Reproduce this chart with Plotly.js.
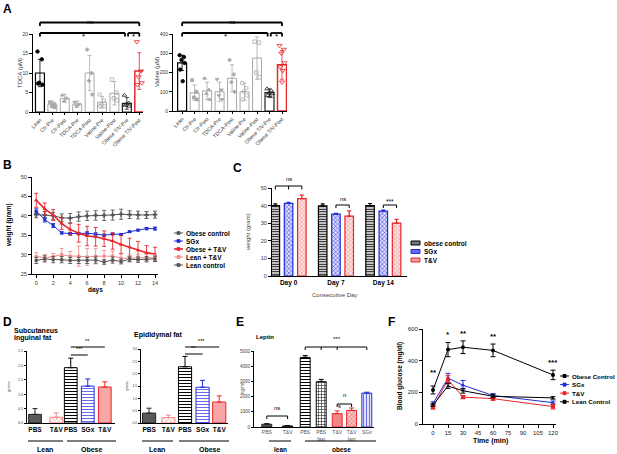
<!DOCTYPE html>
<html>
<head>
<meta charset="utf-8">
<script src="https://cdn.plot.ly/plotly-3.0.1.min.js"></script>
<style>html,body{margin:0;padding:0;background:#fff}#chart{width:617px;height:454px}</style>
</head>
<body>
<div id="chart"></div>
<script>
// ---------- data ----------
// A: plasma TDCA / valine
const groupsA = ['Lean', 'Ctr-Pre', 'Ctr-Post', 'TDCA-Pre', 'TDCA-Post', 'Valine-Pre', 'Valine-Post', 'Obese T/V-Pre', 'Obese T/V-Post'];
const tdcaMean = [10, 2, 3.5, 2, 10, 2.5, 4.8, 2.2, 10.5];
const tdcaSd = [3.5, 0.8, 1, 0.8, 4.5, 1.5, 3, 1.5, 4.7];
const tdcaPts = [[15.5, 13.5, 7.5, 7.0, 7.3], [2.5, 2, 1.5, 1.2], [4.3, 3.5, 2.8], [2.5, 2, 1.5],
  [16, 10, 8, 4.5], [4.5, 3, 2, 1.5, 1.5], [8.3, 5, 3.5, 3], [4.3, 2.3, 2, 1.5, 1.7], [18, 10.5, 9, 7.5, 7]];
const valMean = [250, 95, 105, 100, 170, 100, 275, 95, 240];
const valSd = [40, 40, 45, 50, 70, 45, 110, 20, 75];
const valPts = [[290, 280, 265, 250, 215, 155], [160, 100, 70, 60], [170, 110, 90, 60], [165, 110, 80, 60],
  [265, 190, 150, 100], [145, 120, 100, 80, 60], [360, 355, 200, 175], [115, 105, 95, 90, 80, 75],
  [340, 320, 300, 250, 230, 210, 150]];

// B: body weight over 14 days
const days = [0, 1, 2, 3, 4, 5, 6, 7, 8, 9, 10, 11, 12, 13, 14];
const obeseCtl = [40.3, 40.2, 40, 39.5, 39.4, 39.8, 40, 40.1, 40.1, 40.2, 40.4, 40.3, 40.2, 40.2, 40.3];
const obeseCtlSd = [0.8, 0.9, 0.9, 1, 1.2, 1.2, 1.2, 1.2, 1.3, 1.3, 1.3, 1, 1, 0.9, 0.9];
const sgx = [41.2, 39, 37.5, 35.6, 35.4, 35.4, 35.5, 35.3, 35, 35.3, 35.2, 35.9, 36.3, 36.7, 36.7];
const sgxSd = [0.6, 0.6, 0.5, 0.3, 0.3, 0.3, 0.4, 0.3, 0.3, 0.2, 0.2, 0.2, 0.2, 0.3, 0.4];
const obeseTV = [44, 41.8, 40.2, 38, 36.5, 35.5, 34.8, 34.6, 34.1, 33.5, 32.6, 31.9, 31.1, 30.5, 30.1];
const obeseTVSd = [1.8, 1.5, 1.4, 1.5, 1.5, 2.3, 2.5, 2.4, 2, 2.1, 2.3, 2.3, 2.3, 1.8, 1.8];
const leanTV = [29.5, 29.2, 29.5, 30, 29.6, 29.6, 29.4, 29.6, 29.6, 29.6, 29.1, 29, 29.2, 29.2, 29.2];
const leanTVSd = [1, 0.8, 0.8, 1.6, 1.2, 2.6, 2.2, 2, 1.5, 1.3, 1, 0.9, 0.8, 0.8, 0.8];
const leanCtl = [28.5, 28.9, 28.7, 28.7, 28.5, 28.5, 28.5, 28.6, 28.1, 28.6, 28.2, 28.8, 28.7, 28.8, 28.9];
const leanCtlSd = [0.8, 0.8, 0.8, 0.8, 0.8, 0.8, 0.8, 0.8, 0.6, 0.8, 0.6, 0.6, 0.7, 0.7, 0.7];

// C: weight at day 0 / 7 / 14
const cDays = ['Day 0', 'Day 7', 'Day 14'];
const cObese = [40, 39.8, 40];
const cObeseSd = [1, 1.2, 1.2];
const cSgx = [41.3, 35.2, 36.9];
const cSgxSd = [0.6, 0.4, 0.6];
const cTV = [44, 34, 30];
const cTVSd = [2, 3, 2.2];

// D: fat pads
const dLabels = ['PBS', 'T&V', 'PBS', 'SGx', 'T&V'];
const subqMean = [0.3, 0.2, 1.92, 1.28, 1.25];
const subqSem = [0.2, 0.15, 0.33, 0.25, 0.18];
const epiMean = [0.4, 0.22, 2.28, 1.45, 0.85];
const epiSem = [0.2, 0.1, 0.42, 0.28, 0.25];

// E: leptin
const eLabels = ['PBS', 'T&V', 'PBS', 'PBS<br>fast', 'T&V', 'T&V<br>fast', 'SGx'];
const leptin = [180, 70, 4580, 2980, 880, 1090, 2230];
const leptinSem = [50, 30, 120, 150, 180, 160, 60];

// F: glucose tolerance
const times = [0, 15, 30, 60, 120];
const gObese = [215, 470, 485, 465, 310];
const gObeseSd = [25, 45, 40, 40, 30];
const gSgx = [130, 290, 245, 180, 135];
const gSgxSd = [10, 30, 30, 12, 10];
const gTV = [105, 280, 170, 160, 110];
const gTVSd = [10, 25, 10, 10, 15];
const gLean = [120, 240, 210, 175, 165];
const gLeanSd = [8, 15, 15, 10, 8];
const fStars = ['**', '*', '**', '**', '***'];

// ---------- helpers ----------
const W = 617, H = 454;
const FONT = 'Liberation Sans, Arial, sans-serif';
const RED = '#e8262b', BLUE = '#1f2ed6', GREY = '#a8a8a8', DARK = '#555';
const fx = p => p / W;
const fy = p => 1 - p / H;
const xdom = (a, b) => [a / W, b / W];
const ydom = (top, bot) => [1 - bot / H, 1 - top / H];

const traces = [], shapes = [], annotations = [];

function ax(dom, range, anchor, extra) {
  return Object.assign({
    domain: dom, range: range, anchor: anchor,
    showgrid: false, zeroline: false, showline: true,
    linecolor: '#000', linewidth: 1,
    ticks: 'outside', ticklen: 3, tickwidth: 1, tickcolor: '#000',
    tickfont: {family: FONT, size: 5, color: '#333'}, fixedrange: true
  }, extra || {});
}
function txt(text, x, y, size, o) {
  annotations.push(Object.assign({
    text: text, x: fx(x), y: fy(y), xref: 'paper', yref: 'paper', showarrow: false,
    xanchor: 'center', yanchor: 'middle', borderpad: 0,
    font: {family: FONT, size: size, color: '#000'}
  }, o || {}));
}
function axTxt(text, xr, xv, y, size) {
  annotations.push({text: text, x: xv, y: fy(y), xref: xr, yref: 'paper', showarrow: false,
    borderpad: 0, font: {family: FONT, size: size, color: '#000'}});
}
function line(xr, x0, x1, y0, y1, c, w) {
  shapes.push({type: 'line', xref: xr, yref: 'paper', x0: x0, x1: x1, y0: y0, y1: y1,
    line: {color: c || '#000', width: w || 1}});
}
function hline(x0, x1, y, c, w) { line('paper', fx(x0), fx(x1), fy(y), fy(y), c, w); }
function bracket(xr, xs, y, drop, w) {
  line(xr, xs[0], xs[xs.length - 1], fy(y), fy(y), '#000', w);
  if (drop) xs.forEach(x => line(xr, x, x, fy(y), fy(y + drop), '#000', w));
}
function swatch(x0, y0, x1, y1, fill, lc) {
  shapes.push({type: 'rect', xref: 'paper', yref: 'paper', x0: fx(x0), x1: fx(x1), y0: fy(y1), y1: fy(y0),
    fillcolor: fill, line: {color: lc, width: 1}});
}
function bar(xa, ya, x, y, err, st, width, upOnly) {
  const m = {color: st.fill || 'rgba(255,255,255,0)', line: {color: st.c, width: st.w || 1}};
  if (st.pat) m.pattern = st.pat;
  traces.push({type: 'bar', xaxis: xa, yaxis: ya, x: [x], y: [y], width: width, marker: m,
    error_y: upOnly ? {type: 'data', symmetric: false, array: [err], arrayminus: [0], color: st.c, thickness: 1, width: 2.5}
                    : {type: 'data', array: [err], color: st.c, thickness: 0.8, width: 2},
    showlegend: false, hoverinfo: 'skip'});
}

// ---------- panel A ----------
const jit = [-0.2, 0.15, -0.05, 0.2, -0.15, 0.05, 0.0];
const barStyleA = [
  {c: '#000', w: 1.2}, {c: GREY}, {c: GREY}, {c: GREY}, {c: GREY}, {c: GREY}, {c: GREY},
  {c: '#222', w: 1.2}, {c: RED, w: 1.5}
];
const ptStyleA = [
  {symbol: 'circle', color: '#000', size: 3.5}, {symbol: 'square', color: GREY, size: 3},
  {symbol: 'triangle-up', color: GREY, size: 3.5}, {symbol: 'triangle-down', color: GREY, size: 3.5},
  {symbol: 'diamond', color: GREY, size: 3}, {symbol: 'circle-open', color: GREY, size: 3.5},
  {symbol: 'square-open', color: GREY, size: 3.5}, {symbol: 'triangle-up-open', color: '#222', size: 4},
  {symbol: 'triangle-down-open', color: RED, size: 4.5}
];
[[tdcaMean, tdcaSd, tdcaPts, 'x', 'y'], [valMean, valSd, valPts, 'x2', 'y2']].forEach(([mean, sd, pts, xa, ya]) => {
  groupsA.forEach((g, i) => {
    bar(xa, ya, i, mean[i], sd[i], barStyleA[i], 0.72, false);
    traces.push({type: 'scatter', mode: 'markers', xaxis: xa, yaxis: ya,
      x: pts[i].map((_, k) => i + jit[k]), y: pts[i], cliponaxis: false,
      marker: {symbol: ptStyleA[i].symbol, size: ptStyleA[i].size, color: ptStyleA[i].color,
        line: {color: ptStyleA[i].color, width: 0.8}},
      showlegend: false, hoverinfo: 'skip'});
  });
});
[['x', 0], ['x2', 0]].forEach(([xr]) => {
  bracket(xr, [0, 8], 22.5, 3.5, 1.8);
  bracket(xr, [0, 6.85], 33, 3.5, 1.8);
  bracket(xr, [7.1, 8], 33, 3.5, 1.8);
  axTxt('ns', xr, 4, 17.5, 6);
  axTxt('*', xr, 3.5, 31, 8);
  axTxt('*', xr, 7.55, 31, 8);
});
txt('TDCA (μM)', 20, 73, 6, {textangle: -90, font: {family: FONT, size: 6, color: '#333'}});
txt('Valine (μM)', 157, 72, 6, {textangle: -90, font: {family: FONT, size: 6, color: '#333'}});

// ---------- panel B ----------
const bSeries = [
  [obeseCtl, obeseCtlSd, 'Obese control', DARK, 'cross', 4, 1],
  [sgx, sgxSd, 'SGx', BLUE, 'square', 3, 1],
  [obeseTV, obeseTVSd, 'Obese + T&V', RED, 'triangle-up', 4, 1.6],
  [leanTV, leanTVSd, 'Lean + T&V', '#f08c8c', 'square', 3, 1],
  [leanCtl, leanCtlSd, 'Lean control', DARK, 'square', 3, 1]
];
bSeries.forEach(([y, sd, name, c, sym, sz, lw], k) => {
  traces.push({type: 'scatter', mode: 'lines+markers', xaxis: 'x3', yaxis: 'y3', x: days, y: y,
    line: {color: c, width: lw}, marker: {symbol: sym, size: sz, color: c},
    error_y: {type: 'data', array: sd, color: c, thickness: 0.9, width: 2},
    showlegend: false, hoverinfo: 'skip'});
  const yy = 233 + k * 8;
  hline(174, 183, yy, c, lw);
  swatch(177, yy - 1.3, 180, yy + 1.3, c, c);
  txt('<b>' + name + '</b>', 185, yy, 6.5, {xanchor: 'left'});
});
txt('<b>weight (gram)</b>', 9, 225, 6.5, {textangle: -90});
txt('<b>days</b>', 95, 290, 6.5);

// ---------- panel C ----------
const cSeries = [
  [cObese, cObeseSd, '#000', -0.37, {shape: '-', fgcolor: '#000', bgcolor: '#fff', size: 2.5, solidity: 0.45}],
  [cSgx, cSgxSd, BLUE, -0.09, {shape: 'x', fgcolor: BLUE, bgcolor: '#dcdcfa', size: 3, solidity: 0.3}],
  [cTV, cTVSd, RED, 0.19, {shape: 'x', fgcolor: '#f08080', bgcolor: '#fde3e3', size: 3, solidity: 0.3}]
];
cSeries.forEach(([y, sd, c, off, pat]) => {
  traces.push({type: 'bar', xaxis: 'x4', yaxis: 'y4', x: [0, 1, 2], y: y, width: 0.18, offset: off,
    marker: {color: '#fff', line: {color: c, width: 1.2}, pattern: pat},
    error_y: {type: 'data', symmetric: false, array: sd, arrayminus: [0, 0, 0], color: c, thickness: 1.2, width: 2},
    showlegend: false, hoverinfo: 'skip'});
});
bracket('x4', [-0.28, 0, 0.28], 186, 3.5, 1);
axTxt('ns', 'x4', 0, 179, 6);
bracket('x4', [1, 1.28], 205, 3, 1);
axTxt('ns', 'x4', 1.14, 199, 6);
bracket('x4', [2, 2.28], 205, 3, 1);
axTxt('***', 'x4', 2.14, 201, 6.5);
[['obese control', '#777', '#000'], ['SGx', '#6a6af0', BLUE], ['T&V', '#f4a0a0', RED]].forEach(([n, f, c], k) => {
  const yy = 243 + k * 8.5;
  swatch(411, yy - 2, 420, yy + 2, f, c);
  txt('<b>' + n + '</b>', 423, yy, 6.5, {xanchor: 'left'});
});
txt('weight (gram)', 248, 232, 6, {textangle: -90, font: {family: FONT, size: 6, color: '#444'}});
txt('Consecutive Day', 334, 295, 6, {font: {family: FONT, size: 6, color: '#444'}});

// ---------- panel D ----------
const dPos1 = [0, 1.25, 2.1, 3.1, 4.1];
const dPos2 = [0, 1.1, 2.05, 3.05, 4.0];
const dStyle = [
  {c: '#222', fill: '#5a5a5a'},
  {c: '#f08a8a', fill: '#fff', pat: {shape: 'x', fgcolor: '#f08a8a', bgcolor: '#fff', size: 3, solidity: 0.3}},
  {c: '#000', fill: '#fff', pat: {shape: '-', fgcolor: '#000', bgcolor: '#fff', size: 3, solidity: 0.35}},
  {c: BLUE, fill: '#fff', pat: {shape: '-', fgcolor: '#6a6af0', bgcolor: '#fff', size: 3, solidity: 0.35}},
  {c: RED, fill: '#f7a5a5'}
];
dLabels.forEach((l, i) => {
  bar('x5', 'y5', dPos1[i], subqMean[i], subqSem[i], dStyle[i], 0.75, true);
  bar('x6', 'y6', dPos2[i], epiMean[i], epiSem[i], dStyle[i], 0.75, true);
});
bracket('x5', [dPos1[2], dPos1[4]], 347, 0, 1);
axTxt('**', 'x5', 3.1, 344.5, 5.5);
bracket('x5', [dPos1[2], dPos1[3]], 355, 0, 1);
axTxt('***', 'x5', 2.6, 352.5, 5.5);
bracket('x6', [dPos2[2], dPos2[4]], 347, 0, 1);
axTxt('***', 'x6', 3.0, 344.5, 5.5);
bracket('x6', [dPos2[2], dPos2[3]], 354, 0, 1);
axTxt('**', 'x6', 2.55, 351.5, 5.5);
txt('<b>Subcutaneus</b>', 13, 330, 7, {xanchor: 'left'});
txt('<b>inguinal fat</b>', 13, 338, 7, {xanchor: 'left'});
txt('<b>Epididymal fat</b>', 133, 335, 7, {xanchor: 'left'});
txt('grams', 8, 387, 4, {textangle: -90, font: {family: FONT, size: 4, color: '#555'}});
txt('grams', 127, 386, 3.5, {textangle: -90, font: {family: FONT, size: 3.5, color: '#555'}});
hline(28, 63, 441); hline(67, 116, 441);
hline(142, 173, 441); hline(179, 229, 441);
txt('<b>Lean</b>', 45, 449, 7); txt('<b>Obese</b>', 92, 449, 7);
txt('<b>Lean</b>', 157, 449, 7); txt('<b>Obese</b>', 210, 449, 7);

// ---------- panel E ----------
const ePos = [0, 1.3, 2.4, 3.4, 4.4, 5.3, 6.25];
const eStyle = [
  {c: '#222', fill: '#555'},
  {c: '#111', fill: '#333'},
  {c: '#000', fill: '#fff', pat: {shape: '-', fgcolor: '#000', bgcolor: '#fff', size: 3, solidity: 0.35}},
  {c: '#000', fill: '#fff', pat: {shape: '+', fgcolor: '#222', bgcolor: '#fff', size: 3, solidity: 0.35}},
  {c: RED, fill: '#f28585'},
  {c: RED, fill: '#f4b0b0', pat: {shape: 'x', fgcolor: '#e05050', bgcolor: '#f8c8c8', size: 3, solidity: 0.3}},
  {c: BLUE, fill: '#fff', pat: {shape: '|', fgcolor: '#7070f0', bgcolor: '#e0e0fb', size: 3, solidity: 0.35}}
];
eLabels.forEach((l, i) => bar('x7', 'y7', ePos[i], leptin[i], leptinSem[i], eStyle[i], 0.62, true));
bracket('x7', [ePos[0], ePos[1]], 416, 3, 1);
axTxt('ns', 'x7', 0.65, 411.5, 6);
bracket('x7', [ePos[2], ePos[3], ePos[4], ePos[6]], 347, 3, 1);
axTxt('***', 'x7', 4.4, 343, 6);
bracket('x7', [ePos[4], ePos[5]], 404, 3, 1);
axTxt('n', 'x7', 4.85, 399, 6);
axTxt('s', 'x7', 4.55, 410, 6);
txt('<b>Leptin</b>', 265, 337, 6);
txt('ng/ml', 242, 389, 4.5, {textangle: -90, font: {family: FONT, size: 4.5, color: '#555'}});
hline(269, 291, 441); hline(305, 376, 441);
txt('<b>lean</b>', 280, 449, 6.5); txt('<b>obese</b>', 341, 449, 6.5);

// ---------- panel F ----------
const fSeries = [
  [gObese, gObeseSd, 'Obese Control', '#000', 'circle', 4],
  [gSgx, gSgxSd, 'SGx', BLUE, 'triangle-up', 4],
  [gTV, gTVSd, 'T&V', RED, 'square', 4],
  [gLean, gLeanSd, 'Lean Control', '#000', 'triangle-up', 3]
];
fSeries.forEach(([y, sd, name, c, sym, sz], k) => {
  traces.push({type: 'scatter', mode: 'lines+markers', xaxis: 'x8', yaxis: 'y8', x: times, y: y,
    line: {color: c, width: 1}, marker: {symbol: sym, size: sz, color: c},
    error_y: {type: 'data', array: sd, color: c, thickness: 1, width: 2.5},
    showlegend: false, hoverinfo: 'skip'});
  const yy = 376 + k * 8.6;
  hline(560, 569, yy, c, 1);
  swatch(563, yy - 1.5, 566, yy + 1.5, c, c);
  txt('<b>' + name + '</b>', 571, yy, 6.2, {xanchor: 'left'});
});
const starY = [378, 340, 339, 342, 368];
times.forEach((t, i) => axTxt('<b>' + fStars[i] + '</b>', 'x8', t, starY[i], 8));
txt('<b>Blood glucose (mg/dl)</b>', 400, 376, 6.5, {textangle: -90});
txt('<b>Time (min)</b>', 490, 441, 7);

// ---------- panel letters ----------
[['A', 7, 9], ['B', 7, 165], ['C', 237, 168], ['D', 7, 322], ['E', 240, 322], ['F', 391, 322]].forEach(([l, x, y]) =>
  txt('<b>' + l + '</b>', x, y, 12, {font: {family: FONT, size: 12, color: '#000'}}));

// ---------- layout ----------
const layout = {
  width: W, height: H, margin: {l: 0, r: 0, t: 0, b: 0},
  paper_bgcolor: '#fff', plot_bgcolor: 'rgba(0,0,0,0)',
  barmode: 'overlay', showlegend: false,
  font: {family: FONT},
  xaxis: ax(xdom(33, 143), [-0.56, 8.3], 'y', {tickvals: [0, 1, 2, 3, 4, 5, 6, 7, 8], ticktext: groupsA,
    tickangle: -45, ticklen: 2, tickfont: {family: FONT, size: 5.3, color: '#333'}}),
  yaxis: ax(ydom(34, 112), [0, 20], 'x', {dtick: 5}),
  xaxis2: ax(xdom(173, 287), [-0.73, 8.4], 'y2', {tickvals: [0, 1, 2, 3, 4, 5, 6, 7, 8], ticktext: groupsA,
    tickangle: -45, ticklen: 2, tickfont: {family: FONT, size: 5.3, color: '#333'}}),
  yaxis2: ax(ydom(34, 111), [0, 400], 'x2', {dtick: 100}),
  xaxis3: ax(xdom(32, 158), [-0.5, 14.35], 'y3', {dtick: 2, tickangle: 0, tickfont: {family: FONT, size: 5.5, color: '#333'}}),
  yaxis3: ax(ydom(177, 274), [25, 50], 'x3', {dtick: 5, tickfont: {family: FONT, size: 5.5, color: '#333'}}),
  xaxis4: ax(xdom(272, 407), [-0.35, 2.5], 'y4', {tickvals: [0, 1, 2], ticktext: cDays.map(d => '<b>' + d + '</b>'),
    ticks: '', tickangle: 0, tickfont: {family: FONT, size: 6.5, color: '#000'}}),
  yaxis4: ax(ydom(188, 276), [0, 50], 'x4', {dtick: 10, tickfont: {family: FONT, size: 5.5, color: '#333'}}),
  xaxis5: ax(xdom(27, 115), [-0.47, 4.7], 'y5', {tickvals: dPos1, ticktext: dLabels.map(d => '<b>' + d + '</b>'),
    ticks: '', tickangle: 0, tickfont: {family: FONT, size: 6.5, color: '#000'}}),
  yaxis5: ax(ydom(351, 423), [0, 2.5], 'x5', {dtick: 0.5, tickformat: '.1f', ticklen: 2, tickfont: {family: FONT, size: 3.8, color: '#444'}}),
  xaxis6: ax(xdom(141, 228), [-0.46, 4.5], 'y6', {tickvals: dPos2, ticktext: dLabels.map(d => '<b>' + d + '</b>'),
    ticks: '', tickangle: 0, tickfont: {family: FONT, size: 6.5, color: '#000'}}),
  yaxis6: ax(ydom(349, 423), [0, 3], 'x6', {dtick: 0.5, tickformat: '.1f', ticklen: 2, tickfont: {family: FONT, size: 3.5, color: '#444'}}),
  xaxis7: ax(xdom(254, 374), [-0.8, 6.7], 'y7', {tickvals: ePos, ticktext: eLabels,
    ticks: '', tickangle: 0, tickfont: {family: FONT, size: 5, color: '#555'}}),
  yaxis7: ax(ydom(351, 427), [0, 5000], 'x7', {dtick: 1000, ticklen: 2, tickfont: {family: FONT, size: 4.5, color: '#444'}}),
  xaxis8: ax(xdom(423, 556), [-10, 123], 'y8', {tickvals: [0, 15, 30, 45, 60, 75, 90, 105, 120], tickangle: 0,
    tickfont: {family: FONT, size: 6, color: '#222'}}),
  yaxis8: ax(ydom(329, 424), [0, 600], 'x8', {dtick: 200, tickfont: {family: FONT, size: 6, color: '#222'}}),
  shapes: shapes,
  annotations: annotations
};

Plotly.newPlot('chart', traces, layout, {displayModeBar: false, staticPlot: true});
</script>
</body>
</html>
